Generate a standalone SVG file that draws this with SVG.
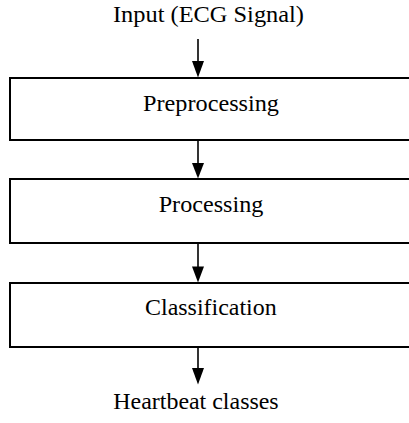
<svg xmlns="http://www.w3.org/2000/svg" width="409" height="423" viewBox="0 0 409 423">
<style>
.box{fill:#fff;stroke:#000;stroke-width:2}
.lbl{font-family:"Liberation Serif","Times New Roman",serif;font-size:23px;fill:#000}
.conn{stroke:#000;stroke-width:1.6;fill:none}
.head{fill:#000;stroke:none}
</style>
<rect width="409" height="423" fill="#fff"/>
<g id="input"><text class="lbl" x="113" y="21.5" textLength="191" lengthAdjust="spacingAndGlyphs">Input (ECG Signal)</text></g>
<g id="preprocessing"><rect class="box" x="10" y="78" width="420" height="62"/><text class="lbl" x="143" y="111" textLength="136" lengthAdjust="spacingAndGlyphs">Preprocessing</text></g>
<g id="processing"><rect class="box" x="10" y="179" width="420" height="64"/><text class="lbl" x="158.7" y="211.7" textLength="104.6" lengthAdjust="spacingAndGlyphs">Processing</text></g>
<g id="classification"><rect class="box" x="10" y="283" width="420" height="64"/><text class="lbl" x="145" y="315" textLength="131.7" lengthAdjust="spacingAndGlyphs">Classification</text></g>
<g id="output"><text class="lbl" x="113.3" y="408.5" textLength="165.4" lengthAdjust="spacingAndGlyphs">Heartbeat classes</text></g>
<g id="connectors">
<line class="conn" x1="198" y1="39" x2="198" y2="62"/><polygon class="head" points="192,61 204,61 198,77.5"/>
<line class="conn" x1="198" y1="141" x2="198" y2="164"/><polygon class="head" points="192,163 204,163 198,178.5"/>
<line class="conn" x1="198" y1="244" x2="198" y2="267"/><polygon class="head" points="192,266.5 204,266.5 198,282.5"/>
<line class="conn" x1="198" y1="348" x2="198" y2="369"/><polygon class="head" points="192,368 204,368 198,384.5"/>
</g>
</svg>
